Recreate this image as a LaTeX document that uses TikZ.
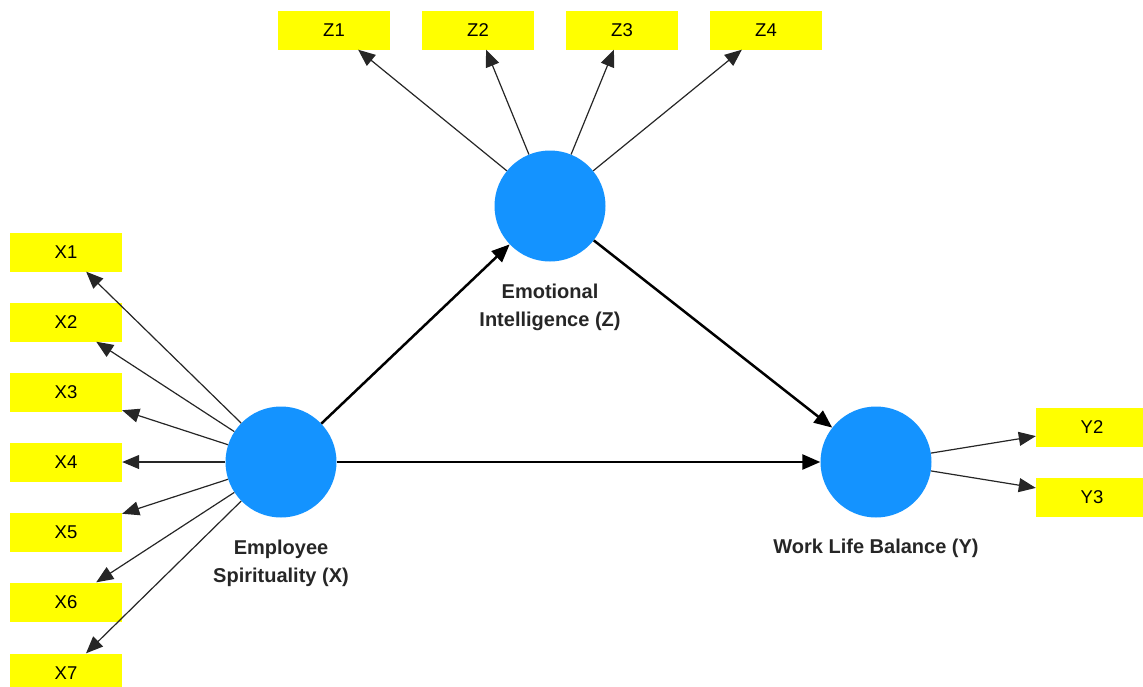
\documentclass[tikz,border=0pt]{standalone}
\usepackage{fontspec}
\setmainfont{Liberation Sans}
\usetikzlibrary{arrows.meta}
\definecolor{lvblue}{RGB}{20,147,255}
\definecolor{indy}{RGB}{255,255,0}
\begin{document}
\begin{tikzpicture}[x=1pt,y=-1pt,
 ind/.style={fill=indy, minimum width=112pt, minimum height=39pt, inner sep=0pt, font=\fontsize{18.5}{20}\selectfont},
 lat/.style={circle, fill=lvblue, minimum size=111pt, inner sep=0pt},
 lab/.style={font=\fontsize{20}{28}\selectfont\bfseries, align=center, text=black!85},
 load/.style={-{Triangle[length=17pt,width=14pt]}, line width=1.2pt, black!85},
 pth/.style={-{Triangle[length=18pt,width=15pt]}, line width=2.5pt, black}]
\useasboundingbox (0,0) rectangle (1143,686);
\clip (0,0) rectangle (1143,686);
% latent variables
\node[lat] (X) at (281,462) {};
\node[lat] (Z) at (550,206) {};
\node[lat] (Y) at (876,462) {};
% labels
\node[lab] (lX) at (281,563) {Employee\\Spirituality (X)};
\node[lab] (lZ) at (550,307) {Emotional\\Intelligence (Z)};
\node[lab] (lY) at (876,548) {Work Life Balance (Y)};
% indicators
\node[ind] (X1) at (66,252) {X1};
\node[ind] (X2) at (66,322) {X2};
\node[ind] (X3) at (66,392) {X3};
\node[ind] (X4) at (66,462) {X4};
\node[ind] (X5) at (66,532) {X5};
\node[ind] (X6) at (66,602) {X6};
\node[ind] (X7) at (66,673) {X7};
\node[ind] (Z1) at (334,30) {Z1};
\node[ind] (Z2) at (478,30) {Z2};
\node[ind] (Z3) at (622,30) {Z3};
\node[ind] (Z4) at (766,30) {Z4};
\node[ind] (Y2) at (1092,427) {Y2};
\node[ind] (Y3) at (1092,497) {Y3};
% loadings
\foreach \i in {1,...,7} \draw[load] (X) -- (X\i);
\foreach \i in {1,...,4} \draw[load] (Z) -- (Z\i);
\draw[load] (Y) -- (Y2);
\draw[load] (Y) -- (Y3);
% structural paths
\draw[pth] (X) -- (Z);
\draw[pth] (X) -- (Y);
\draw[pth] (Z) -- (Y);
\end{tikzpicture}
\end{document}
